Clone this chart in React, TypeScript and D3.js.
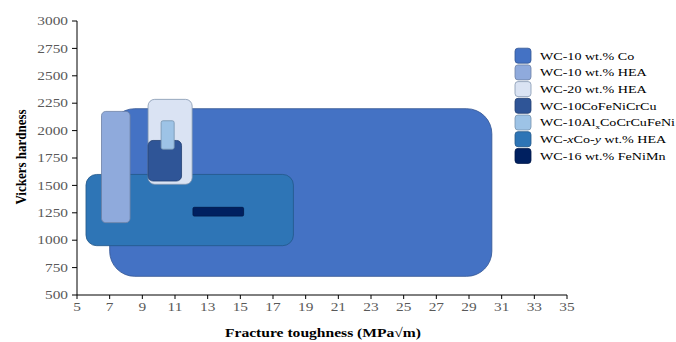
import React from "react";
import * as d3 from "d3";

const seriesNames = [
  "WC-10 wt.% Co",
  "WC-10 wt.% HEA",
  "WC-20 wt.% HEA",
  "WC-10CoFeNiCrCu",
  "WC-10AlxCoCrCuFeNi",
  "WC-xCo-y wt.% HEA",
  "WC-16 wt.% FeNiMn",
];
const seriesColors = ["#4472C4", "#8FAADC", "#DAE3F3", "#2F5597", "#9DC3E6", "#2E75B6", "#002060"];
// ranges [toughness min, toughness max, hardness min, hardness max]
const kMin = [7.0, 6.5, 9.35, 9.35, 10.15, 5.55, 12.1];
const kMax = [30.4, 8.25, 12.05, 11.4, 10.95, 18.25, 15.2];
const hMin = [670, 1160, 1510, 1540, 1830, 950, 1220];
const hMax = [2200, 2175, 2285, 1910, 2090, 1600, 1300];
const drawOrder = [0, 5, 1, 2, 3, 4, 6];

const xTicks = d3.range(5, 36, 2);
const yTicks = d3.range(500, 3001, 250);

export default function App() {
  const W = 676, H = 342;
  const x = d3.scaleLinear().domain([5, 35]).range([77, 567]);
  const y = d3.scaleLinear().domain([500, 3000]).range([295, 21]);
  const font = "'Liberation Serif', 'Times New Roman', serif";
  const SX = 1.28;

  const legendLabel = (name: string) => {
    if (name === "WC-10AlxCoCrCuFeNi") {
      return (
        <>
          WC-10Al<tspan fontSize={7} dy={3}>x</tspan>
          <tspan dy={-3}>CoCrCuFeNi</tspan>
        </>
      );
    }
    if (name === "WC-xCo-y wt.% HEA") {
      return (
        <>
          WC-<tspan fontStyle="italic">x</tspan>Co-<tspan fontStyle="italic">y</tspan> wt.% HEA
        </>
      );
    }
    return name;
  };

  return (
    <svg width={W} height={H} style={{ position: "absolute", left: 0, top: 0, background: "#fff" }} fontFamily={font}>
      {drawOrder.map((i) => {
        const x0 = x(kMin[i]), x1 = x(kMax[i]);
        const y0 = y(hMax[i]), y1 = y(hMin[i]);
        const w = x1 - x0, h = y1 - y0;
        const r = Math.min(w, h) * 0.15;
        const stroke = d3.color(seriesColors[i])!.darker(0.8).formatHex();
        return (
          <rect key={i} x={x0} y={y0} width={w} height={h} rx={r} ry={r}
            fill={seriesColors[i]} stroke={i === 2 ? "#8497B0" : stroke} strokeWidth={0.8} />
        );
      })}
      {/* axes */}
      <line x1={77} x2={77} y1={21} y2={295} stroke="#000" strokeWidth={1} />
      <line x1={77} x2={567} y1={295} y2={295} stroke="#000" strokeWidth={1} />
      {yTicks.map((t) => (
        <g key={t}>
          <line x1={72} x2={77} y1={y(t)} y2={y(t)} stroke="#000" />
          <g transform={`translate(68,${y(t)}) scale(${SX},1)`}>
            <text dy="0.35em" textAnchor="end" fontSize={12} fill="#595959">{t}</text>
          </g>
        </g>
      ))}
      {xTicks.map((t) => (
        <g key={t}>
          <line x1={x(t)} x2={x(t)} y1={295} y2={299} stroke="#000" />
          <g transform={`translate(${x(t)},311) scale(${SX},1)`}>
            <text textAnchor="middle" fontSize={12} fill="#595959">{t}</text>
          </g>
        </g>
      ))}
      <g transform={`translate(323,337) scale(1.2,1)`}>
        <text textAnchor="middle" fontSize={13} fontWeight="bold">Fracture toughness (MPa√m)</text>
      </g>
      <g transform="translate(26,157) scale(1.2,1) rotate(-90)">
        <text textAnchor="middle" fontSize={13} fontWeight="bold">Vickers hardness</text>
      </g>
      {/* legend */}
      {seriesNames.map((n, i) => {
        const cy = 55.7 + i * 16.7;
        const stroke = d3.color(seriesColors[i])!.darker(0.8).formatHex();
        return (
          <g key={n}>
            <rect x={515} y={cy - 7.5} width={16} height={15} rx={3} fill={seriesColors[i]}
              stroke={i === 2 ? "#8497B0" : stroke} strokeWidth={0.8} />
            <g transform={`translate(540,${cy}) scale(${SX},1)`}>
              <text dy="0.35em" fontSize={11} fill="#000">{legendLabel(n)}</text>
            </g>
          </g>
        );
      })}
    </svg>
  );
}
